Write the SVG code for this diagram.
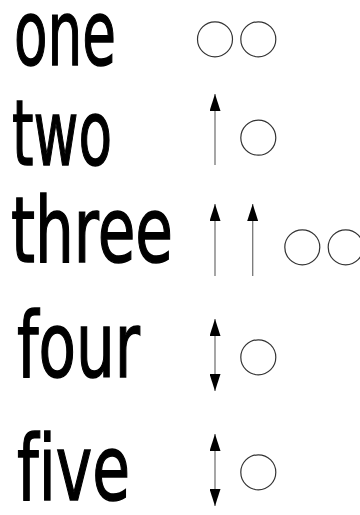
<svg xmlns="http://www.w3.org/2000/svg" width="360" height="515" viewBox="0 0 360 515">
<style>
.word{font-family:"DejaVu Sans","Liberation Sans",sans-serif;font-size:90px;fill:#000;stroke:#000;stroke-width:1.5;font-variant-ligatures:none;}
.orb{fill:#fff;stroke:#333;stroke-width:1.2;}
.arr{stroke:#777;stroke-width:1.3;fill:none;}
</style>
<defs>
<marker id="tip" viewBox="-17 -5.5 17 11" refX="0" refY="0" markerWidth="17" markerHeight="11" markerUnits="userSpaceOnUse" orient="auto-start-reverse">
<path d="M0,0 L-17,-5.5 L-17,5.5 Z" fill="#000"/>
</marker>
</defs>
<rect width="360" height="515" fill="#fff"/>
<g id="words">
<text id="w-one" class="word" x="14" y="65" textLength="102" lengthAdjust="spacingAndGlyphs">one</text>
<text id="w-two" class="word" x="12" y="165" textLength="100" lengthAdjust="spacingAndGlyphs">two</text>
<text id="w-three" class="word" x="11" y="262" textLength="162" lengthAdjust="spacingAndGlyphs">three</text>
<text id="w-four" class="word" x="17" y="377" textLength="123" lengthAdjust="spacingAndGlyphs">four</text>
<text id="w-five" class="word" x="17" y="500" textLength="113" lengthAdjust="spacingAndGlyphs">five</text>
</g>
<g id="connectors">
<path class="arr" d="M215,165 L215,94" marker-end="url(#tip)"/>
<path class="arr" d="M215,276 L215,204" marker-end="url(#tip)"/>
<path class="arr" d="M252.7,276 L252.7,204" marker-end="url(#tip)"/>
<path class="arr" d="M215,391 L215,319" marker-start="url(#tip)" marker-end="url(#tip)"/>
<path class="arr" d="M215,506 L215,434" marker-start="url(#tip)" marker-end="url(#tip)"/>
</g>
<g id="n-one-a"><circle class="orb" cx="215" cy="39.3" r="17.5"/></g>
<g id="n-one-b"><circle class="orb" cx="258.3" cy="39.3" r="17.5"/></g>
<g id="n-two"><circle class="orb" cx="258.3" cy="137.7" r="17.5"/></g>
<g id="n-three-a"><circle class="orb" cx="302.3" cy="247.3" r="17.5"/></g>
<g id="n-three-b"><circle class="orb" cx="345.7" cy="247.3" r="17.5"/></g>
<g id="n-four"><circle class="orb" cx="258.3" cy="357.3" r="17.5"/></g>
<g id="n-five"><circle class="orb" cx="258.3" cy="472.3" r="17.5"/></g>
</svg>
